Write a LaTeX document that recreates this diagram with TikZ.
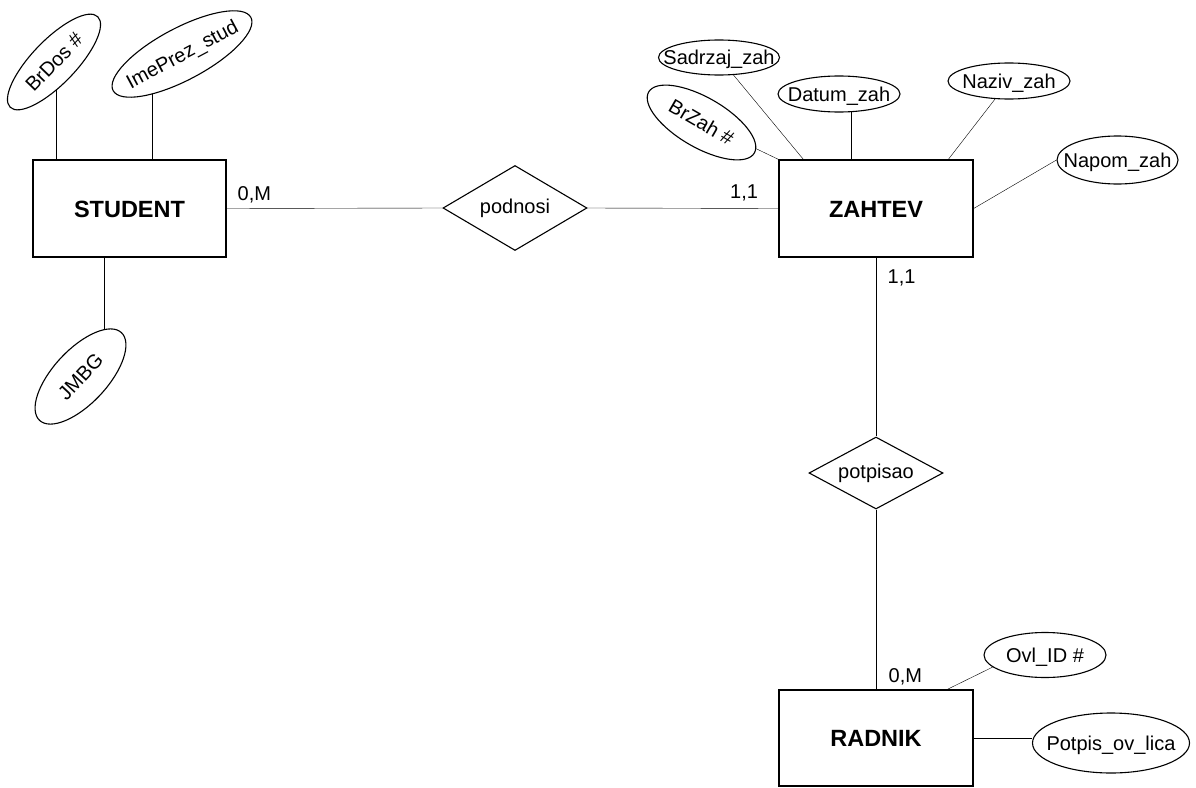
\documentclass[tikz,border=0pt]{standalone}
\usepackage{fontspec}
\setmainfont{Liberation Sans}
\usetikzlibrary{shapes.geometric,calc}
\pgfdeclarelayer{bg}
\pgfsetlayers{bg,main}
% attribute text takes no width, so the ellipse keeps the size it is given
\newcommand\attrtext[1]{\makebox[0pt][c]{#1}}

\begin{document}
\begin{tikzpicture}[x=1pt,y=-1pt,line width=1.3pt,
  entity/.style={draw,rectangle,fill=white,minimum width=194pt,minimum height=97pt,
    inner sep=0pt,text height=17pt,text depth=0pt,
    font=\fontsize{23.5}{28}\selectfont\bfseries},
  relation/.style={draw,diamond,fill=white,inner sep=0pt,line width=1.1pt,
    font=\fontsize{20}{24}\selectfont},
  attr/.style={draw,ellipse,fill=white,inner sep=0pt,text height=14pt,text depth=0pt,
    line width=1.1pt,font=\fontsize{20}{24}\selectfont},
  card/.style={anchor=base west,inner sep=0pt,font=\fontsize{20}{24}\selectfont}]

\useasboundingbox (0,0) rectangle (1196,787);

% entities
\node[entity,minimum width=193pt] (stud) at (129.5,208.5) {STUDENT};
\node[entity] (zahtev) at (876,208.5) {ZAHTEV};
\node[entity,minimum height=96pt] (radnik) at (876,738) {RADNIK};

% relationships
\node[relation,aspect=1.7,minimum width=144pt,minimum height=85pt] (podnosi) at (515,208) {podnosi};
\node[relation,aspect=1.86,minimum width=134pt,minimum height=72pt] (potpisao) at (876,473) {potpisao};

% attributes of STUDENT
\node[attr,rotate=46,minimum width=126pt,minimum height=44pt] (brdos) at (54,62) {\attrtext{BrDos \#}};
\node[attr,rotate=28,minimum width=156pt,minimum height=52pt] (imeprez) at (182,54) {\attrtext{ImePrez\_stud}};
\node[attr,rotate=47,minimum width=120pt,minimum height=54pt] (jmbg) at (80.5,376.5) {\attrtext{JMBG}};

% attributes of ZAHTEV
\node[attr,minimum width=121pt,minimum height=35pt] (sadrzaj) at (719,57.5) {\attrtext{Sadrzaj\_zah}};
\node[attr,rotate=-30,minimum width=122pt,minimum height=50pt] (brzah) at (701.5,122.5) {\attrtext{BrZah \#}};
\node[attr,minimum width=122pt,minimum height=36pt] (datum) at (839,94) {\attrtext{Datum\_zah}};
\node[attr,minimum width=122pt,minimum height=36pt] (naziv) at (1009,81) {\attrtext{Naziv\_zah}};
\node[attr,minimum width=121pt,minimum height=48pt] (napom) at (1117.5,160) {\attrtext{Napom\_zah}};

% attributes of RADNIK
\node[attr,minimum width=122pt,minimum height=45pt] (ovl) at (1045,655) {\attrtext{Ovl\_ID \#}};
\node[attr,minimum width=157pt,minimum height=60pt] (potpis) at (1111,743) {\attrtext{Potpis\_ov\_lica}};

% cardinalities
\node[card] (c1) at (237,200) {0,M};
\node[card] (c2) at (729.5,198.3) {1,1};
\node[card] (c3) at (887,283) {1,1};
\node[card] (c4) at (888,682) {0,M};

% attachment points on the entity borders
\coordinate (s1) at ($(stud.north west)+(24,0)$);
\coordinate (s2) at ($(stud.north west)+(120,0)$);
\coordinate (s3) at ($(stud.south west)+(72,0)$);
\coordinate (z1) at ($(zahtev.north west)+(25,0)$);
\coordinate (z2) at ($(zahtev.north west)+(73,0)$);
\coordinate (z3) at ($(zahtev.north west)+(170,0)$);
\coordinate (r1) at ($(radnik.north west)+(169,0)$);

% connectors, kept behind the shapes
\begin{pgfonlayer}{bg}
  \draw (stud.east) -- (podnosi.west);
  \draw (podnosi.east) -- (zahtev.west);
  \draw (zahtev.south) -- (potpisao.north);
  \draw (potpisao.south) -- (radnik.north);

  \draw (s1) -- (s1 |- brdos.center);
  \draw (s2) -- (s2 |- imeprez.center);
  \draw (s3) -- (s3 |- jmbg.center);

  \draw (brzah) -- (zahtev.north west);
  \draw (sadrzaj) -- (z1);
  \draw (z2) -- (z2 |- datum.center);
  \draw (naziv) -- (z3);
  \draw (zahtev.east) -- (napom.west);

  \draw (r1) -- (ovl.193);
  \draw (radnik.east) -- (potpis.west |- radnik.east);
\end{pgfonlayer}
\end{tikzpicture}
\end{document}
